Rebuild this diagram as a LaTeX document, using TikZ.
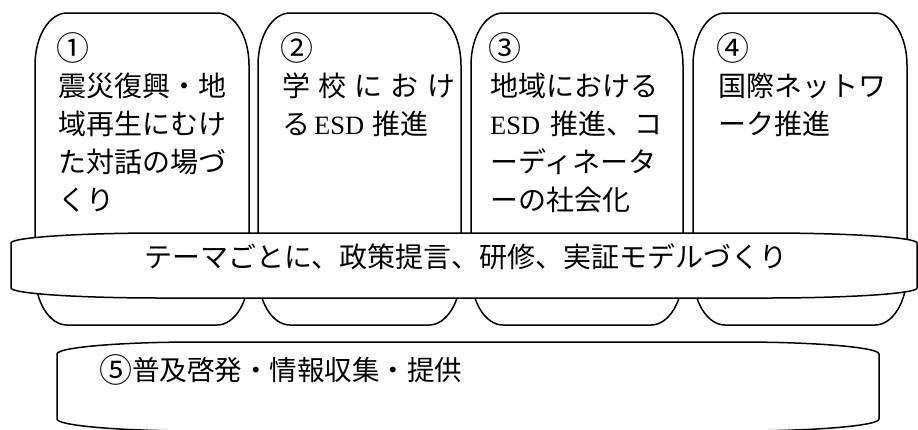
\documentclass[tikz,border=0pt]{standalone}
\usepackage{fontspec}
\setmainfont{Noto Sans CJK JP}
\newfontfamily\latinfont{Liberation Serif}
\tikzset{
  boxline/.style={draw=black, line width=1.5pt, fill=white, line join=round},
  txt/.style={anchor=base west, inner sep=0pt, font=\fontsize{28}{34}\selectfont},
  ctxt/.style={anchor=base, inner sep=0pt, font=\fontsize{28}{34}\selectfont},
  numtxt/.style={anchor=base west, inner sep=0pt, font=\fontsize{33}{36}\selectfont},
}
\newcommand\esd{{\latinfont\fontsize{26.5}{30}\selectfont ESD}}
% x1,y1,x2,y2,rx,ry : rectangle with elliptical corners
\newcommand\mkbox[6]{%
  \pgfmathsetmacro\ka{0.4477*#5}%
  \pgfmathsetmacro\kb{0.4477*#6}%
  \draw[boxline] (#1,#2+#6) -- (#1,#4-#6)
    .. controls (#1,#4-\kb) and (#1+\ka,#4) .. (#1+#5,#4)
    -- (#3-#5,#4)
    .. controls (#3-\ka,#4) and (#3,#4-\kb) .. (#3,#4-#6)
    -- (#3,#2+#6)
    .. controls (#3,#2+\kb) and (#3-\ka,#2) .. (#3-#5,#2)
    -- (#1+#5,#2)
    .. controls (#1+\ka,#2) and (#1,#2+\kb) .. cycle;}
\begin{document}
\begin{tikzpicture}[x=1pt,y=-1pt]
\useasboundingbox (0,0) rectangle (918,429);
% four theme boxes
\mkbox{35}{13}{249}{325}{32}{52}
\mkbox{258}{13}{461}{325}{32}{52}
\mkbox{471}{13}{683}{325}{32}{52}
\mkbox{693}{13}{907}{325}{32}{52}
% box 1
\node[numtxt] (b1a) at (56,60.5) {①};
\node[txt] (b1b) at (58,96.6) {震災復興・地};
\node[txt] (b1c) at (58,134.6) {域再生にむけ};
\node[txt] (b1d) at (58,172.6) {た対話の場づ};
\node[txt] (b1e) at (58,210.6) {くり};
% box 2
\node[numtxt] (b2a) at (280,60.5) {②};
\node[txt] (b2b) at (282,96.6) {\makebox[173pt][s]{学\hfil 校\hfil に\hfil お\hfil け}};
\node[txt] (b2c) at (282,134.6) {る\hspace{4pt}\esd\hspace{8pt}推進};
% box 3
\node[numtxt] (b3a) at (488,60.5) {③};
\node[txt] (b3b) at (490,96.6) {地域における};
\node[txt] (b3c) at (490,134.6) {\esd\hspace{10pt}推進、コ};
\node[txt] (b3d) at (490,172.6) {ーディネータ};
\node[txt] (b3e) at (490,210.6) {ーの社会化};
% box 4
\node[numtxt] (b4a) at (716,60.5) {④};
\node[txt] (b4b) at (718,96.6) {国際ネットワ};
\node[txt] (b4c) at (718,134.6) {ーク推進};
% band
\mkbox{11}{233}{917}{298}{150}{10}
\node[ctxt] (band) at (466,267.6) {テーマごとに、政策提言、研修、実証モデルづくり};
% box 5
\mkbox{57}{342}{879}{431}{140}{12}
\node[txt, font=\fontsize{27.5}{34}\selectfont] (b5) at (99,380) {\raisebox{-2pt}{\fontsize{33}{36}\selectfont ⑤}普及啓発・情報収集・提供};
\end{tikzpicture}
\end{document}
